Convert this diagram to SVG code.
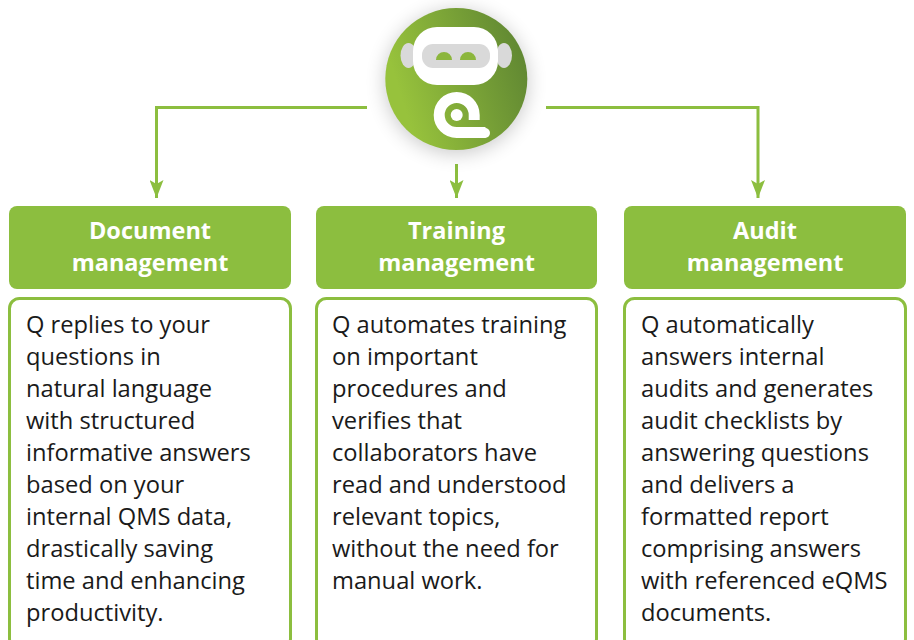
<svg xmlns="http://www.w3.org/2000/svg" width="914" height="640" viewBox="0 0 914 640">
<style>
.h{fill:#8cbe3f}
.b{fill:#fff;stroke:#8cbe3f;stroke-width:3}
.t{font-family:"Open Sans","Noto Sans","Liberation Sans",sans-serif;font-size:23.700px;fill:#1a1a1a}
.w{font-family:"Open Sans","Noto Sans","Liberation Sans",sans-serif;font-size:23.500px;font-weight:700;fill:#fff;text-anchor:middle}
.c{fill:none;stroke:#8cbe3f;stroke-width:3}
</style>
<defs>
<linearGradient id="g" x1="0" y1="0.62" x2="1" y2="0.3"><stop offset="0.1" stop-color="#97c23c"/><stop offset="1" stop-color="#5f8632"/></linearGradient>
<filter id="s" x="-50%" y="-50%" width="200%" height="200%"><feGaussianBlur stdDeviation="10"/></filter>
<marker id="a" markerUnits="userSpaceOnUse" markerWidth="18" markerHeight="14" refX="18" refY="7" orient="auto" viewBox="0 0 18 14"><path d="M0 0L4 7L0 14L18 7Z" fill="#8cbe3f"/></marker>
</defs>
<g id="connectors">
<path class="c" d="M367 107.500H156.500V198" marker-end="url(#a)"/>
<path class="c" d="M456.500 164V198" marker-end="url(#a)"/>
<path class="c" d="M546 107.500H758V198" marker-end="url(#a)"/>
</g>
<g id="robot">
<circle cx="456.300" cy="82" r="71" fill="#000" opacity=".22" filter="url(#s)"/>
<circle cx="456.300" cy="79" r="71" fill="url(#g)"/>
<ellipse cx="408.500" cy="55.500" rx="8" ry="12.500" fill="#d9d9d9"/>
<ellipse cx="504" cy="55.500" rx="8" ry="12.500" fill="#d9d9d9"/>
<rect x="413" y="27" width="85" height="58" rx="24" fill="#fff"/>
<rect x="422" y="44" width="68" height="24" rx="11" fill="#d9d9d9"/>
<path d="M436 60a8 8 0 0 1 16 0ZM460 60a8 8 0 0 1 16 0Z" fill="#8cb63c"/>
<path d="M474.200 120V115A17.500 17.500 0 1 0 456.700 132.500H485.500" fill="none" stroke="#fff" stroke-width="11"/>
<circle cx="485" cy="133" r="5" fill="#fff"/>
<circle cx="456.700" cy="115" r="6" fill="#fff"/>
</g>
<g id="document">
<rect class="h" x="9" y="206" width="282" height="83" rx="8"/>
<text class="w" x="150" y="239">Document</text><text class="w" x="150" y="271">management</text>
<rect class="b" x="9.500" y="298.500" width="281" height="350" rx="10"/>
<text class="t" x="26" y="333">Q replies to your</text>
<text class="t" x="26" y="365">questions in</text>
<text class="t" x="26" y="397">natural language</text>
<text class="t" x="26" y="429">with structured</text>
<text class="t" x="26" y="461">informative answers</text>
<text class="t" x="26" y="493">based on your</text>
<text class="t" x="26" y="525">internal QMS data,</text>
<text class="t" x="26" y="557">drastically saving</text>
<text class="t" x="26" y="589">time and enhancing</text>
<text class="t" x="26" y="621">productivity.</text>
</g>
<g id="training">
<rect class="h" x="316" y="206" width="281" height="83" rx="8"/>
<text class="w" x="456.500" y="239">Training</text><text class="w" x="456.500" y="271">management</text>
<rect class="b" x="316.500" y="298.500" width="280" height="350" rx="10"/>
<text class="t" x="332" y="333">Q automates training</text>
<text class="t" x="332" y="365">on important</text>
<text class="t" x="332" y="397">procedures and</text>
<text class="t" x="332" y="429">verifies that</text>
<text class="t" x="332" y="461">collaborators have</text>
<text class="t" x="332" y="493">read and understood</text>
<text class="t" x="332" y="525">relevant topics,</text>
<text class="t" x="332" y="557">without the need for</text>
<text class="t" x="332" y="589">manual work.</text>
</g>
<g id="audit">
<rect class="h" x="624" y="206" width="282" height="83" rx="8"/>
<text class="w" x="765" y="239">Audit</text><text class="w" x="765" y="271">management</text>
<rect class="b" x="624.500" y="298.500" width="281" height="350" rx="10"/>
<text class="t" x="641" y="333">Q automatically</text>
<text class="t" x="641" y="365">answers internal</text>
<text class="t" x="641" y="397">audits and generates</text>
<text class="t" x="641" y="429">audit checklists by</text>
<text class="t" x="641" y="461">answering questions</text>
<text class="t" x="641" y="493">and delivers a</text>
<text class="t" x="641" y="525">formatted report</text>
<text class="t" x="641" y="557">comprising answers</text>
<text class="t" x="641" y="589">with referenced eQMS</text>
<text class="t" x="641" y="621">documents.</text>
</g>
</svg>
